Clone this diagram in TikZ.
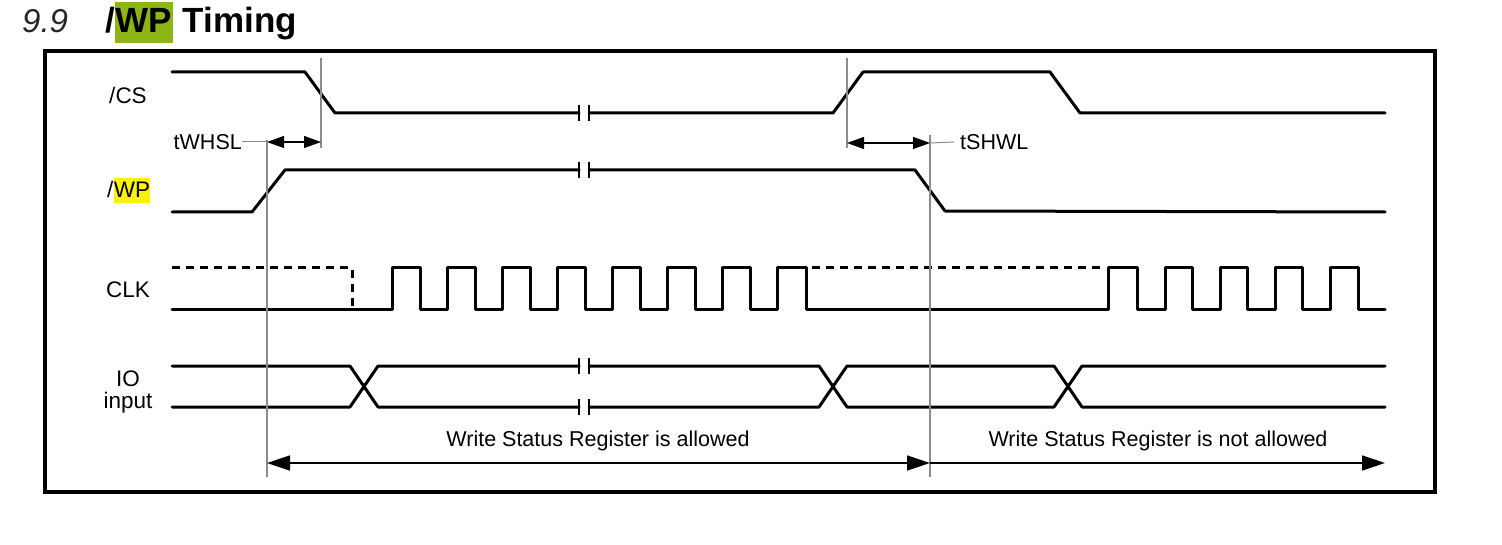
\documentclass[tikz,border=0pt]{standalone}
\usepackage{fontspec}
\setmainfont{Liberation Sans}
\usetikzlibrary{arrows.meta}
\definecolor{titlegreen}{RGB}{140,182,22}
\definecolor{guide}{RGB}{140,140,140}
\begin{document}
\begin{tikzpicture}[x=1pt,y=-1pt,
  sig/.style={line width=3pt, line join=round, line cap=round},
  dsig/.style={line width=3pt, dash pattern=on 8pt off 6pt},
  guideline/.style={draw=guide, line width=1.2pt},
  tick/.style={line width=1.4pt},
  dimarrow/.style={line width=1.1pt, {Triangle[length=17pt,width=12pt]}-{Triangle[length=17pt,width=12pt]}},
  spanarrow/.style={line width=1.6pt},
  lbl/.style={font=\fontsize{21.5}{24}\selectfont, inner sep=0pt},
  siglbl/.style={font=\fontsize{22.5}{26}\selectfont, inner sep=0pt},
  ttl/.style={font=\fontsize{35}{40}\selectfont\bfseries, inner sep=0pt, anchor=base west}]
\useasboundingbox (0,0) rectangle (1502,545);

% title
\node[font=\fontsize{33}{38}\selectfont\itshape, text=black!85, inner sep=0pt, anchor=base west] (tnum) at (22,33) {9.9};
\node[ttl] (tslash) at (105,33) {/};
\node[ttl, fill=titlegreen, text height=31pt, text depth=10pt, inner xsep=0.5pt] (twp) at (tslash.base east) {WP};
\node[ttl] (ttiming) at (twp.base east) {\ Timing};

% frame
\draw[line width=3.5pt] (45,51) rectangle (1435,492);

% labels
\node[siglbl] (lcs) at (128,95) {/CS};
\node[siglbl, anchor=base west] (lwps) at (107,198) {/};
\node[siglbl, anchor=base west, fill=yellow, text height=20pt, text depth=5pt] (lwp) at (lwps.base east) {WP};
\node[siglbl] (lclk) at (128,290) {CLK};
\node[siglbl] (lio) at (128,379) {IO};
\node[siglbl] (linput) at (128,403) {input};

% /CS
\draw[sig] (172,72) -- (305,72) -- (335,113) -- (579,113);
\draw[sig] (589,113) -- (833,113) -- (863,72) -- (1050,72) -- (1080,113) -- (1385,113);
% /WP
\draw[sig] (172,212) -- (252,212) -- (285,170) -- (579,170);
\draw[sig] (589,170) -- (915,170) -- (945,211) -- (1385,212);
% CLK
\draw[sig] (172,310) -- (392,310) -- (392,268) -- (420,268) -- (420,310) -- (447,310) -- (447,268) -- (475,268) -- (475,310) -- (502,310) -- (502,268) -- (530,268) -- (530,310) -- (557,310) -- (557,268) -- (585,268) -- (585,310) -- (612,310) -- (612,268) -- (640,268) -- (640,310) -- (667,310) -- (667,268) -- (695,268) -- (695,310) -- (722,310) -- (722,268) -- (750,268) -- (750,310) -- (777,310) -- (777,268) -- (806,268) -- (806,310) -- (1108,310) -- (1108,268) -- (1137,268) -- (1137,310) -- (1165,310) -- (1165,268) -- (1192,268) -- (1192,310) -- (1220,310) -- (1220,268) -- (1247,268) -- (1247,310) -- (1275,310) -- (1275,268) -- (1302,268) -- (1302,310) -- (1330,310) -- (1330,268) -- (1358,268) -- (1358,310) -- (1385,310);
\draw[dsig] (172,268) -- (352,268) -- (352,310);
\draw[dsig] (812,268) -- (1104,268);
% IO
\draw[sig] (172,366) -- (350,366) -- (378,407) -- (579,407);
\draw[sig] (172,407) -- (350,407) -- (378,366) -- (579,366);
\draw[sig] (589,366) -- (819,366) -- (847,407) -- (1054,407) -- (1082,366) -- (1385,366);
\draw[sig] (589,407) -- (819,407) -- (847,366) -- (1054,366) -- (1082,407) -- (1385,407);

% break ticks
\foreach \yy in {113,170,366,407} {
  \draw[tick] (579,\yy-8) -- (579,\yy+8);
  \draw[tick] (589,\yy-8) -- (589,\yy+8);
}

% guide lines
\coordinate (g1t) at (321,58);  \coordinate (g1b) at (321,148);
\coordinate (g2t) at (267,140); \coordinate (g2b) at (267,477);
\coordinate (g3t) at (847,58);  \coordinate (g3b) at (847,148);
\coordinate (g4t) at (930,135); \coordinate (g4b) at (930,477);
\draw[guideline] (g1t) -- (g1b);
\draw[guideline] (g2t) -- (g2b);
\draw[guideline] (g3t) -- (g3b);
\draw[guideline] (g4t) -- (g4b);

% timing parameters
\coordinate (a1l) at (267,142); \coordinate (a1r) at (321,142);
\coordinate (a2l) at (847,143); \coordinate (a2r) at (930,143);
\node[lbl, anchor=east] (twhsl) at (242,142) {tWHSL};
\node[lbl, anchor=west] (tshwl) at (960,142) {tSHWL};
\draw[dimarrow] (a1l) -- (a1r);
\draw[dimarrow] (a2l) -- (a2r);
\draw[guideline, line width=1pt] (twhsl.east) -- (a1l);
\draw[guideline, line width=1pt] (a2r) -- ([xshift=-6pt]tshwl.west);

% span arrows
\coordinate (s1) at (267,463); \coordinate (s2) at (930,463); \coordinate (s3) at (1385,463);
\draw[spanarrow, {Triangle[length=23pt,width=15pt]}-{Triangle[length=23pt,width=15pt]}] (s1) -- (s2);
\draw[spanarrow, -{Triangle[length=23pt,width=15pt]}] (s2) -- (s3);
\node[lbl] (allowed) at (598,441) {Write Status Register is allowed};
\node[lbl] (notallowed) at (1158,441) {Write Status Register is not allowed};
\end{tikzpicture}
\end{document}
